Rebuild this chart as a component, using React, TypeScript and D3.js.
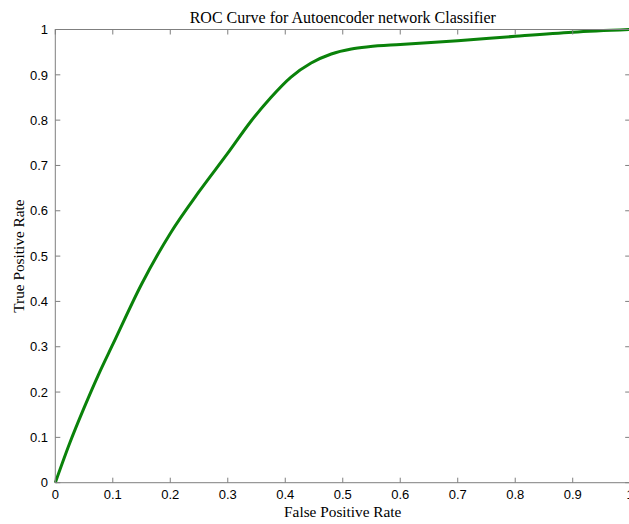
import React from "react";
import * as d3 from "d3";

const fpr = [0, 0.025, 0.05, 0.075, 0.1, 0.15, 0.2, 0.25, 0.3, 0.34, 0.375, 0.41, 0.445, 0.48, 0.515, 0.545, 0.6, 0.7, 0.8, 0.9, 1.0];
const tpr = [0, 0.087, 0.165, 0.238, 0.305, 0.438, 0.55, 0.642, 0.727, 0.797, 0.85, 0.895, 0.926, 0.946, 0.957, 0.962, 0.967, 0.975, 0.985, 0.994, 1.0];
const xTicks = [0, 0.1, 0.2, 0.3, 0.4, 0.5, 0.6, 0.7, 0.8, 0.9, 1];
const yTicks = [0, 0.1, 0.2, 0.3, 0.4, 0.5, 0.6, 0.7, 0.8, 0.9, 1];
const title = "ROC Curve for Autoencoder network Classifier";
const xLabel = "False Positive Rate";
const yLabel = "True Positive Rate";

const W = 629;
const H = 524;
const L = 55.3;
const R = 630.2;
const T = 29.5;
const B = 482.7;

export default function App() {
  const x = d3.scaleLinear().domain([0, 1]).range([L, R]);
  const y = d3.scaleLinear().domain([0, 1]).range([B, T]);
  const pts: [number, number][] = fpr.map((v, i) => [v, tpr[i]]);
  const line = d3
    .line<[number, number]>()
    .x((d) => x(d[0]))
    .y((d) => y(d[1]))
    .curve(d3.curveMonotoneX);
  const axisColor = "#7f7f7f";
  const tickLen = 5;
  const fmt = (v: number) => (v === 0 || v === 1 ? String(v) : v.toFixed(1));
  return (
    <svg
      width={W}
      height={H}
      style={{ position: "absolute", left: 0, top: 0, background: "#fff" }}
    >
      <rect x={0} y={0} width={W} height={H} fill="#fff" />
      <path d={line(pts) || ""} fill="none" stroke="#0a820a" strokeWidth={3} strokeLinejoin="round" />
      <rect x={L} y={T} width={R - L} height={B - T} fill="none" stroke={axisColor} strokeWidth={1} />
      {xTicks.map((t) => (
        <g key={"x" + t}>
          <line x1={x(t)} x2={x(t)} y1={B} y2={B - tickLen} stroke={axisColor} />
          <line x1={x(t)} x2={x(t)} y1={T} y2={T + tickLen} stroke={axisColor} />
          <text
            x={x(t)}
            y={499}
            textAnchor="middle"
            fontFamily="'Liberation Sans', Arial, sans-serif"
            fontSize={13}
            fill="#000"
          >
            {fmt(t)}
          </text>
        </g>
      ))}
      {yTicks.map((t) => (
        <g key={"y" + t}>
          <line x1={L} x2={L + tickLen} y1={y(t)} y2={y(t)} stroke={axisColor} />
          <line x1={R} x2={R - tickLen} y1={y(t)} y2={y(t)} stroke={axisColor} />
          <text
            x={48}
            y={y(t) + 4.7}
            textAnchor="end"
            fontFamily="'Liberation Sans', Arial, sans-serif"
            fontSize={13}
            fill="#000"
          >
            {fmt(t)}
          </text>
        </g>
      ))}
      <text
        x={(L + R) / 2}
        y={23}
        textAnchor="middle"
        fontFamily="'Liberation Serif', 'Times New Roman', serif"
        fontSize={16}
        fill="#000"
      >
        {title}
      </text>
      <text
        x={(L + R) / 2}
        y={517}
        textAnchor="middle"
        fontFamily="'Liberation Serif', 'Times New Roman', serif"
        fontSize={15.3}
        fill="#000"
      >
        {xLabel}
      </text>
      <text
        transform={`translate(24, ${(T + B) / 2}) rotate(-90)`}
        textAnchor="middle"
        fontFamily="'Liberation Serif', 'Times New Roman', serif"
        fontSize={15.3}
        fill="#000"
      >
        {yLabel}
      </text>
    </svg>
  );
}
